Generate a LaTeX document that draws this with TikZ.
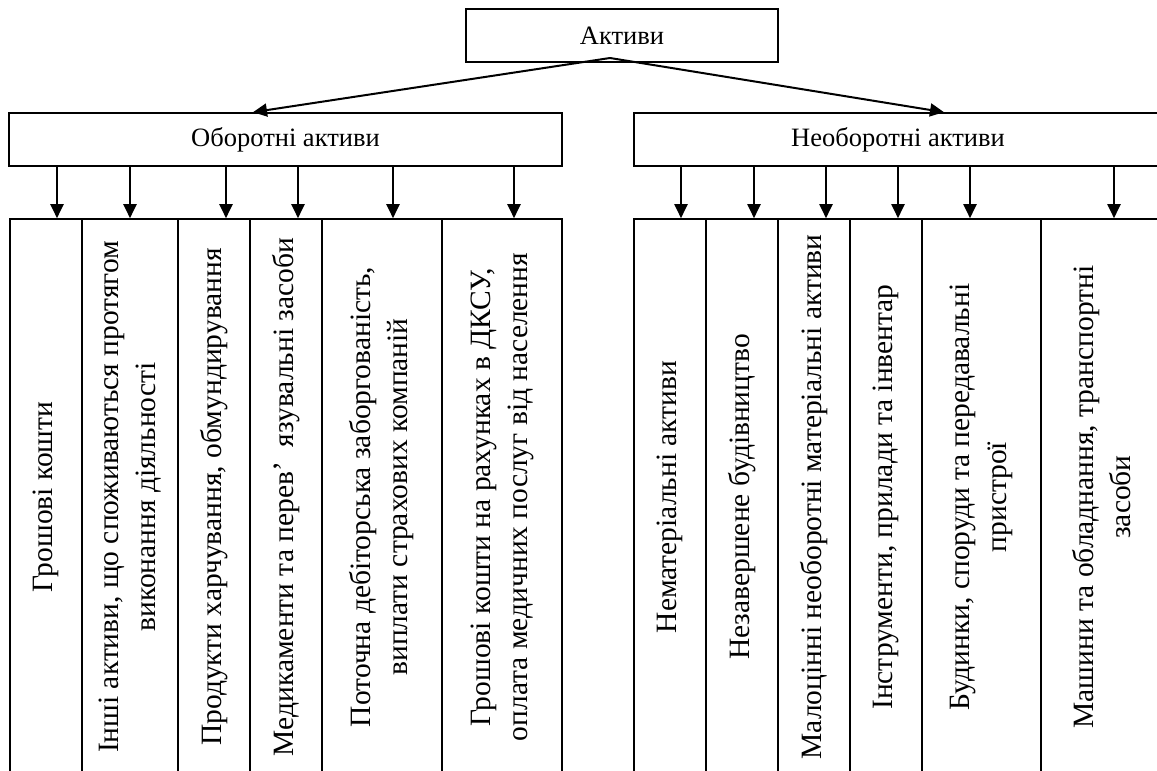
\documentclass[tikz,border=0pt]{standalone}
\usepackage{fontspec}
\setmainfont{Liberation Serif}
\usetikzlibrary{arrows.meta,calc}

\begin{document}
\begin{tikzpicture}[x=1pt,y=-1pt,
  >={Triangle[length=14pt,width=13pt]},
  box/.style={draw,line width=1.6pt,inner sep=0pt,minimum height=53pt,font=\fontsize{26.5}{30}\selectfont},
  leaf/.style={draw,line width=1.6pt,inner sep=0pt,rotate=90,minimum width=556pt,align=center,font=\fontsize{29.5}{37}\selectfont},
  link/.style={->,line width=2pt}]
\useasboundingbox (0,0) rectangle (1157,771);

\node [box,minimum width=312pt] (aktyvy) at (622,35.5) {Активи};
\node [box,minimum width=553pt] (oborotni) at (285.5,139.5) {Оборотні активи};
\node [box,minimum width=528pt] (neoborotni) at (898,139.5) {Необоротні активи};

\coordinate (rozpodil) at (610,58);
\draw [link] (rozpodil) -- ($(oborotni.north)+(-32.5,0)$);
\draw [link] (rozpodil) -- ($(neoborotni.north)+(46,0)$);

\node [leaf,minimum height=72pt] (groshi) at (46,497) {Грошові кошти};
\node [leaf,minimum height=96pt] (inshi) at (130,497) {Інші активи, що споживаються протягом\\виконання діяльності};
\node [leaf,minimum height=72pt] (produkty) at (214,497) {Продукти харчування, обмундирування};
\node [leaf,minimum height=72pt] (medykamenty) at (286,497) {Медикаменти та перев’~ язувальні засоби};
\node [leaf,minimum height=120pt] (debitorska) at (382,497) {Поточна дебіторська заборгованість,\\виплати страхових компаній};
\node [leaf,minimum height=120pt] (dksu) at (502,497) {Грошові кошти на рахунках в ДКСУ,\\оплата медичних послуг від населення};

\node [leaf,minimum height=72pt] (nematerialni) at (670,497) {Нематеріальні активи};
\node [leaf,minimum height=72pt] (budivnytstvo) at (742,497) {Незавершене будівництво};
\node [leaf,minimum height=72pt] (malotsinni) at (814,497) {Малоцінні необоротні матеріальні активи};
\node [leaf,minimum height=72pt] (instrumenty) at (886,497) {Інструменти, прилади та інвентар};
\node [leaf,minimum height=119pt] (budynky) at (981.5,497) {Будинки, споруди та передавальні\\пристрої};
\node [leaf,minimum height=121pt] (mashyny) at (1101.5,497) {Машини та обладнання, транспортні\\засоби};

\draw [link] (oborotni.south -| 57,0) -- (groshi.east -| 57,0);
\draw [link] (oborotni.south -| 130,0) -- (inshi.east -| 130,0);
\draw [link] (oborotni.south -| 226,0) -- (produkty.east -| 226,0);
\draw [link] (oborotni.south -| 298,0) -- (medykamenty.east -| 298,0);
\draw [link] (oborotni.south -| 393,0) -- (debitorska.east -| 393,0);
\draw [link] (oborotni.south -| 514,0) -- (dksu.east -| 514,0);

\draw [link] (neoborotni.south -| 681,0) -- (nematerialni.east -| 681,0);
\draw [link] (neoborotni.south -| 754,0) -- (budivnytstvo.east -| 754,0);
\draw [link] (neoborotni.south -| 826,0) -- (malotsinni.east -| 826,0);
\draw [link] (neoborotni.south -| 898,0) -- (instrumenty.east -| 898,0);
\draw [link] (neoborotni.south -| 970,0) -- (budynky.east -| 970,0);
\draw [link] (neoborotni.south -| 1114,0) -- (mashyny.east -| 1114,0);
\end{tikzpicture}
\end{document}
